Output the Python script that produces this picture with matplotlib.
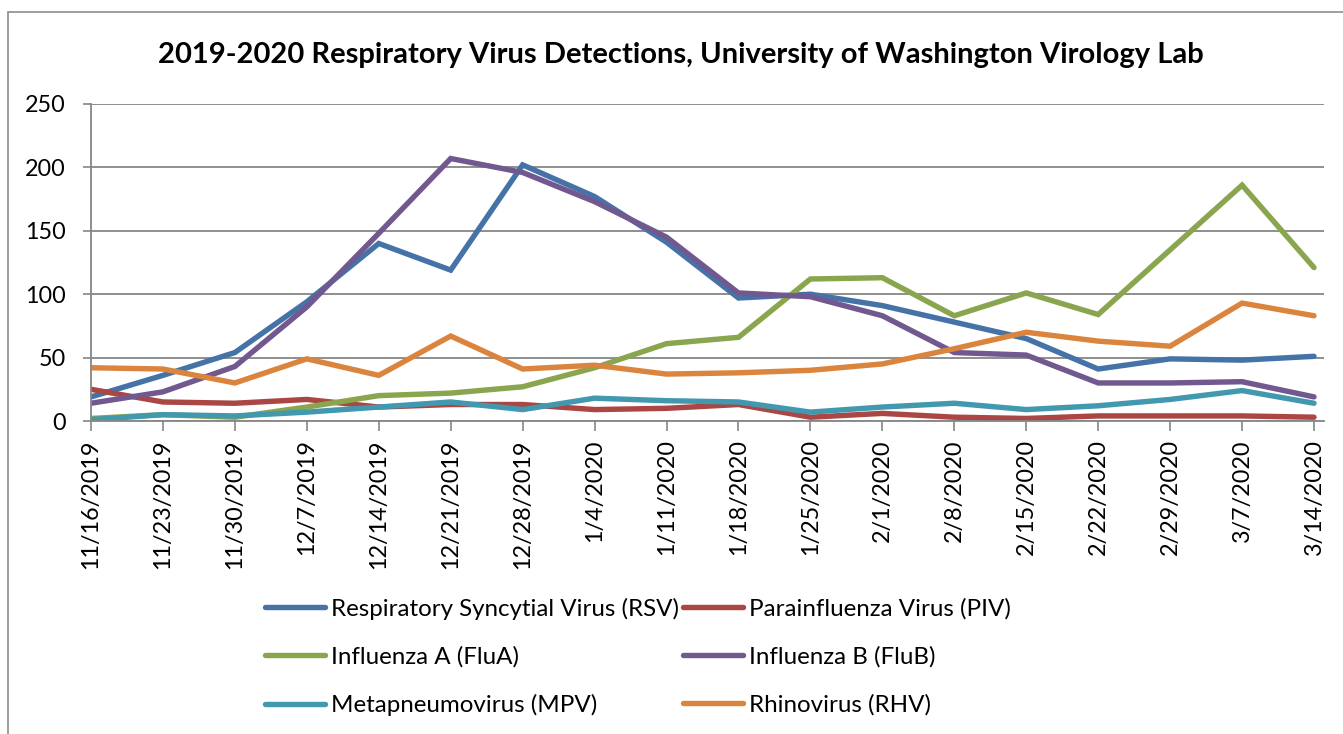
import matplotlib
matplotlib.use("Agg")
import matplotlib.pyplot as plt
from matplotlib.patches import Rectangle

plt.rcParams['font.family'] = ['Lato', 'DejaVu Sans']

dates = ["11/16/2019", "11/23/2019", "11/30/2019", "12/7/2019", "12/14/2019",
         "12/21/2019", "12/28/2019", "1/4/2020", "1/11/2020", "1/18/2020",
         "1/25/2020", "2/1/2020", "2/8/2020", "2/15/2020", "2/22/2020",
         "2/29/2020", "3/7/2020", "3/14/2020"]

rsv  = [19, 36, 54, 94, 140, 119, 202, 177, 141, 97, 100, 91, 78, 65, 41, 49, 48, 51]
piv  = [25, 15, 14, 17, 11, 13, 13, 9, 10, 13, 3, 6, 3, 2, 4, 4, 4, 3]
flua = [2, 5, 3, 11, 20, 22, 27, 42, 61, 66, 112, 113, 83, 101, 84, 135, 186, 121]
flub = [14, 23, 43, 90, 148, 207, 196, 173, 145, 101, 98, 83, 54, 52, 30, 30, 31, 19]
mpv  = [1, 5, 4, 7, 11, 15, 9, 18, 16, 15, 7, 11, 14, 9, 12, 17, 24, 14]
rhv  = [42, 41, 30, 49, 36, 67, 41, 44, 37, 38, 40, 45, 57, 70, 63, 59, 93, 83]

series = [
    ("Respiratory Syncytial Virus (RSV)", rsv, "#4572A7"),
    ("Parainfluenza Virus (PIV)", piv, "#AA4643"),
    ("Influenza A (FluA)", flua, "#89A54E"),
    ("Influenza B (FluB)", flub, "#71588F"),
    ("Metapneumovirus (MPV)", mpv, "#4198AF"),
    ("Rhinovirus (RHV)", rhv, "#DB843D"),
]

W, H = 1343, 734
fig = plt.figure(figsize=(W / 100, H / 100), dpi=100)

# outer chart border
fig.patches.append(Rectangle((8 / W, -0.01), 1.1, (H - 12) / H + 0.01,
                             transform=fig.transFigure, fill=False,
                             edgecolor="#8c8c8c", linewidth=1.2))

left, right, top, bottom = 91, 1324, 104, 421
ax = fig.add_axes([left / W, 1 - bottom / H, (right - left) / W, (bottom - top) / H])

x = list(range(len(dates)))
handles = []
for name, vals, col in series:
    h, = ax.plot(x, vals, color=col, linewidth=3.9, solid_capstyle='round',
                 solid_joinstyle='miter', label=name)
    handles.append(h)

ax.set_ylim(0, 250)
ax.set_xlim(0, 17 + 10 / 72)
ax.set_yticks(range(0, 251, 50))
ax.set_xticks(x)
ax.set_xticklabels(dates, rotation=90, fontsize=16.8)
ax.tick_params(axis='y', labelsize=16.8, length=6, width=1.2, color="#868686", pad=12)
ax.tick_params(axis='x', length=7, width=1.2, color="#868686", pad=6)
ax.grid(axis='y', color="#868686", linewidth=1.3)
ax.set_axisbelow(True)
for s in ['top', 'right']:
    ax.spines[s].set_visible(False)
for s in ['left', 'bottom']:
    ax.spines[s].set_color("#868686")
    ax.spines[s].set_linewidth(1.3)

fig.text(681 / W, 1 - 55 / H,
         "2019-2020 Respiratory Virus Detections, University of Washington Virology Lab",
         ha='center', va='center', fontsize=21, fontweight='bold')

order = [0, 2, 4, 1, 3, 5]
leg = fig.legend([handles[i] for i in order], [series[i][0] for i in order],
                 loc='center', bbox_to_anchor=(638 / W, 1 - 657 / H), ncol=2,
                 frameon=False, fontsize=17.4, handlelength=2.5, handletextpad=0.25,
                 columnspacing=0.15, labelspacing=1.1)

fig.savefig("out.png", dpi=100)
